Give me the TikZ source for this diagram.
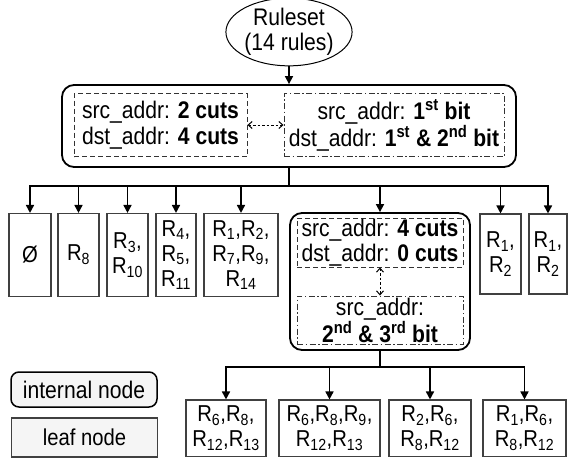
\documentclass[tikz,border=0pt]{standalone}
\usepackage{fontspec}
\setmainfont{Liberation Sans}[FakeStretch=0.88]
\usetikzlibrary{shapes.geometric,arrows.meta}
\begin{document}
\begin{tikzpicture}[x=1pt,y=-1pt,
 every node/.style={font=\fontsize{24}{25.5}\selectfont, inner sep=0pt},
 internal/.style={draw=black, line width=1.8pt, rounded corners=12pt},
 leaf/.style={draw=black!75, line width=1.1pt, align=center, font=\fontsize{23}{25}\selectfont},
 dashbox/.style={draw=black!80, line width=0.9pt, dash pattern=on 5pt off 3pt},
 dashdotbox/.style={draw=black!80, line width=0.9pt, dash pattern=on 6pt off 2.5pt on 1.5pt off 2.5pt},
 arr/.style={line width=1.6pt, -{Triangle[length=8pt,width=8pt]}},
 dotarr/.style={line width=1pt, dash pattern=on 2.5pt off 2pt, {Straight Barb[length=4pt,width=7pt]}-{Straight Barb[length=4pt,width=7pt]}},
 legendfill/.style={fill=black!4}]
\useasboundingbox (0,0) rectangle (568,458);

\node[ellipse, draw, line width=1pt, minimum width=100pt, minimum height=62pt, align=center] (root) at (289,32) {Ruleset\\(14 rules)};

\node[internal, minimum width=454pt, minimum height=82pt] (top) at (289,126) {};
\node[dashbox, minimum width=173pt, minimum height=63pt, align=left] (tl) at (160.5,125) {src\_addr: \textbf{2 cuts}\\dst\_addr: \textbf{4 cuts}};
\node[dashdotbox, minimum width=220pt, minimum height=63pt, align=center] (tr) at (394,125) {src\_addr: \textbf{1\textsuperscript{st} bit}\\dst\_addr: \textbf{1\textsuperscript{st} \& 2\textsuperscript{nd} bit}};
\draw[dotarr] (tl.east) -- (tr.west);
\draw[arr] (root.south) -- (top.north);

\coordinate (bus1) at (289,186);
\node[leaf, minimum width=42pt, minimum height=83pt] (l1) at (30,255) {Ø};
\node[leaf, minimum width=41pt, minimum height=83pt] (l2) at (78.5,255) {R\textsubscript{8}};
\node[leaf, minimum width=41pt, minimum height=83pt] (l3) at (127.5,255) {R\textsubscript{3},\\R\textsubscript{10}};
\node[leaf, minimum width=40pt, minimum height=83pt] (l4) at (176,255) {R\textsubscript{4},\\R\textsubscript{5},\\R\textsubscript{11}};
\node[leaf, minimum width=74pt, minimum height=83pt] (l5) at (241,255) {R\textsubscript{1},R\textsubscript{2},\\R\textsubscript{7},R\textsubscript{9},\\R\textsubscript{14}};
\node[internal, minimum width=180pt, minimum height=137pt] (mid) at (380,281.5) {};
\node[leaf, minimum width=41pt, minimum height=80pt] (l7) at (500.5,254) {R\textsubscript{1},\\R\textsubscript{2}};
\node[leaf, minimum width=38pt, minimum height=80pt] (l8) at (548,254) {R\textsubscript{1},\\R\textsubscript{2}};

\node[dashbox, minimum width=166pt, minimum height=49pt, align=left] (ml) at (380,242.5) {src\_addr: \textbf{4 cuts}\\dst\_addr: \textbf{0 cuts}};
\node[dashdotbox, minimum width=166pt, minimum height=48pt, align=center] (mr) at (380,320) {src\_addr:\\\textbf{2\textsuperscript{nd} \& 3\textsuperscript{rd} bit}};
\draw[dotarr] (ml.south) -- (mr.north);

\foreach \n in {l1,l2,l3,l4,l5,mid,l7,l8}
  \draw[arr] (top.south) -- (bus1) -| (\n.north);

\coordinate (bus2) at (380,367);
\node[leaf, minimum width=80pt, minimum height=56.5pt] (b1) at (226,428.25) {R\textsubscript{6},R\textsubscript{8},\\R\textsubscript{12},R\textsubscript{13}};
\node[leaf, minimum width=101pt, minimum height=56.5pt] (b2) at (329.5,428.25) {R\textsubscript{6},R\textsubscript{8},R\textsubscript{9},\\R\textsubscript{12},R\textsubscript{13}};
\node[leaf, minimum width=82pt, minimum height=56.5pt] (b3) at (430,428.25) {R\textsubscript{2},R\textsubscript{6},\\R\textsubscript{8},R\textsubscript{12}};
\node[leaf, minimum width=83pt, minimum height=56.5pt] (b4) at (524.5,428.25) {R\textsubscript{1},R\textsubscript{6},\\R\textsubscript{8},R\textsubscript{12}};
\foreach \n in {b1,b2,b3,b4}
  \draw[arr] (mid.south) -- (bus2) -| (\n.north);

\node[internal, legendfill, line width=1.5pt, rounded corners=8pt, minimum width=146pt, minimum height=35pt] (li) at (84,389.5) {internal node};
\node[leaf, legendfill, minimum width=146pt, minimum height=39pt] (ll) at (84.5,437.5) {leaf node};
\end{tikzpicture}
\end{document}
